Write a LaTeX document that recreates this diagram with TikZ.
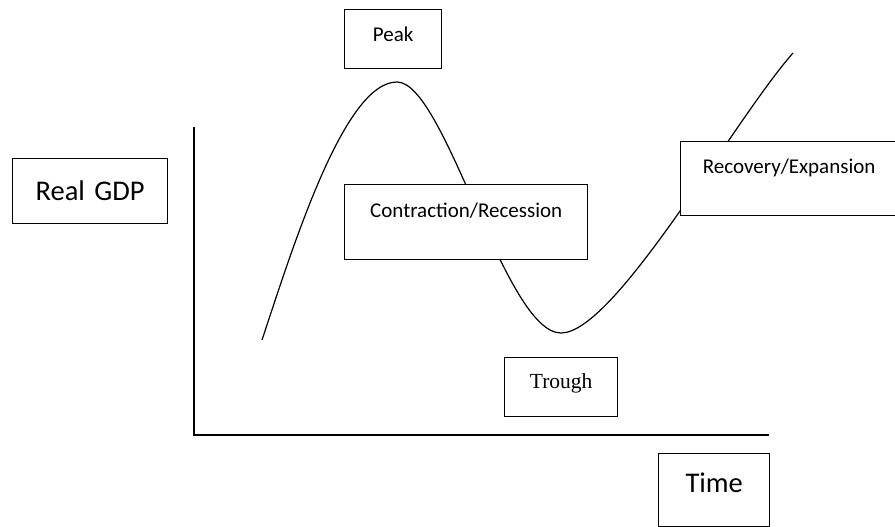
\documentclass[tikz,border=0pt]{standalone}
\usepackage{fontspec}
\setmainfont{Carlito}
\newfontfamily\troughface{Liberation Serif}
\begin{document}
\begin{tikzpicture}[x=1pt,y=-1pt,
    phase box/.style={draw, fill=white, line width=1.4pt, inner sep=0pt, align=center, anchor=north west},
    small text/.style={font=\fontsize{21}{25}\selectfont},
    big text/.style={font=\fontsize{28.5}{34}\selectfont}]
  \useasboundingbox (0,0) rectangle (895,527);
  % axes
  \coordinate (ytop) at (194,127);
  \coordinate (origin) at (194,435);
  \coordinate (xend) at (769,435);
  \draw[line width=1.5pt] (ytop) -- (origin) -- (xend);
  % business cycle
  \coordinate (start) at (262,340);
  \coordinate (top) at (397,82);
  \coordinate (bottom) at (561,333);
  \coordinate (finish) at (793,53);
  \draw[line width=1.2pt] (start) .. controls (295,240) and (345,82) .. (top)
    .. controls (445,82) and (505,333) .. (bottom)
    .. controls (615,333) and (733,121) .. (finish);
  % labels
  \node[phase box, big text, text width=155pt, text height=42pt, text depth=23pt] (gdp) at (12,158) {Real GDP};
  \node[phase box, small text, text width=97pt, text height=32pt, text depth=27pt] (peak) at (344,9) {Peak};
  \node[phase box, small text, text width=243pt, text height=33pt, text depth=42pt] (contraction) at (344,184) {Contraction/Recession};
  \node[phase box, small text, text width=217pt, text height=32pt, text depth=42pt] (recovery) at (680,141) {Recovery/Expansion};
  \node[phase box, font=\troughface\fontsize{21.5}{26}\selectfont, text width=113pt, text height=31pt, text depth=28pt] (trough) at (504,357) {Trough};
  \node[phase box, big text, text width=111pt, text height=39pt, text depth=34pt] (time) at (658,453) {Time};
\end{tikzpicture}
\end{document}
